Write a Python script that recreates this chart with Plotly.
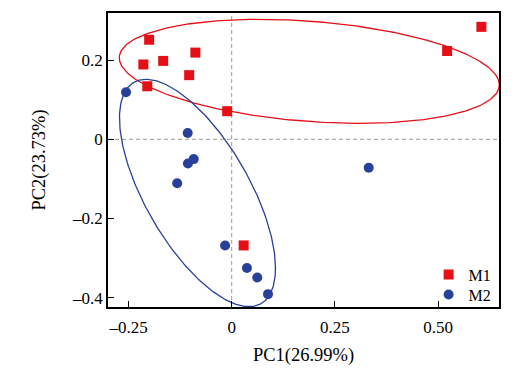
import numpy as np
import plotly.graph_objects as go

# ---- data ----
m1_pc1 = [-0.200, -0.088, -0.214, -0.166, -0.103, -0.2045, -0.011, 0.522, 0.605, 0.029]
m1_pc2 = [0.2515, 0.219, 0.189, 0.198, 0.162, 0.134, 0.071, 0.223, 0.284, -0.268]
m2_pc1 = [-0.256, -0.1066, -0.092, -0.106, -0.132, 0.332, -0.016, 0.037, 0.062, 0.088]
m2_pc2 = [0.119, 0.016, -0.050, -0.061, -0.111, -0.072, -0.268, -0.325, -0.349, -0.391]

group_names = ["M1", "M2"]

# ellipse parameters (centre, semi-extents, correlation) in data units
m1_ellipse = dict(cx=0.188, cy=0.1717, rx=0.4604, ry=0.1313, r=-0.26)
m2_ellipse = dict(cx=-0.0829, cy=-0.1356, rx=0.189, ry=0.2871, r=-0.66)

x_tickvals = [-0.25, 0, 0.25, 0.5]
x_ticktext = ["\u20130.25", "0", "0.25", "0.50"]
y_tickvals = [0.2, 0, -0.2, -0.4]
y_ticktext = ["0.2", "0", "\u20130.2", "\u20130.4"]

x_title = "PC1(26.99%)"
y_title = "PC2(23.73%)"

RED = "#E60E17"
BLUE = "#27419A"


def ellipse(p, n=300):
    t = np.linspace(0, 2 * np.pi, n)
    x = p["cx"] + p["rx"] * np.cos(t)
    y = p["cy"] + p["ry"] * (p["r"] * np.cos(t) + np.sqrt(1 - p["r"] ** 2) * np.sin(t))
    return x, y


fig = go.Figure()

ex, ey = ellipse(m1_ellipse)
fig.add_trace(go.Scatter(x=ex, y=ey, mode="lines", line=dict(color=RED, width=1.3),
                         showlegend=False, hoverinfo="skip"))
ex, ey = ellipse(m2_ellipse)
fig.add_trace(go.Scatter(x=ex, y=ey, mode="lines", line=dict(color=BLUE, width=1.3),
                         showlegend=False, hoverinfo="skip"))

fig.add_trace(go.Scatter(x=m1_pc1, y=m1_pc2, mode="markers", name=group_names[0],
                         marker=dict(symbol="square", size=10, color=RED), legend="legend"))
fig.add_trace(go.Scatter(x=m2_pc1, y=m2_pc2, mode="markers", name=group_names[1],
                         marker=dict(symbol="circle", size=10, color=BLUE), legend="legend2"))

# dashed zero reference lines
fig.add_shape(type="line", xref="x", yref="paper", x0=0, x1=0, y0=0, y1=1,
              line=dict(color="#9a9a9a", width=1, dash="4px,3px"), layer="below")
fig.add_shape(type="line", xref="paper", yref="y", x0=0, x1=1, y0=0, y1=0,
              line=dict(color="#9a9a9a", width=1, dash="4px,3px"), layer="below")

font_family = "Liberation Serif, Times New Roman, serif"
leg_common = dict(xanchor="left", yanchor="top", bgcolor="rgba(0,0,0,0)",
                  font=dict(size=16, family=font_family), itemwidth=30)

# page body has an 8px default margin, so the figure is sized to fit inside it
fig.update_layout(
    width=519, height=365,
    margin=dict(l=100, r=28, t=5, b=66),
    paper_bgcolor="white", plot_bgcolor="white",
    font=dict(family=font_family, size=17, color="black"),
    showlegend=True,
    legend=dict(x=0.82, y=0.168, **leg_common),
    legend2=dict(x=0.82, y=0.100, **leg_common),
    xaxis=dict(range=[-0.2997, 0.6477], tickvals=x_tickvals, ticktext=x_ticktext,
               ticks="inside", ticklen=6, tickwidth=1.2, tickcolor="black",
               showline=True, linecolor="black", linewidth=1.5, mirror=True,
               showgrid=False, zeroline=False, automargin=False,
               ticklabelstandoff=4,
               title=dict(text=x_title, standoff=12, font=dict(size=18.5))),
    yaxis=dict(range=[-0.4235, 0.319], tickvals=y_tickvals, ticktext=y_ticktext,
               ticks="inside", ticklen=6, tickwidth=1.2, tickcolor="black",
               showline=True, linecolor="black", linewidth=1.5, mirror=True,
               showgrid=False, zeroline=False, automargin=False,
               title=dict(text=y_title, standoff=22, font=dict(size=18.5))),
)

fig.write_html("out.html")
